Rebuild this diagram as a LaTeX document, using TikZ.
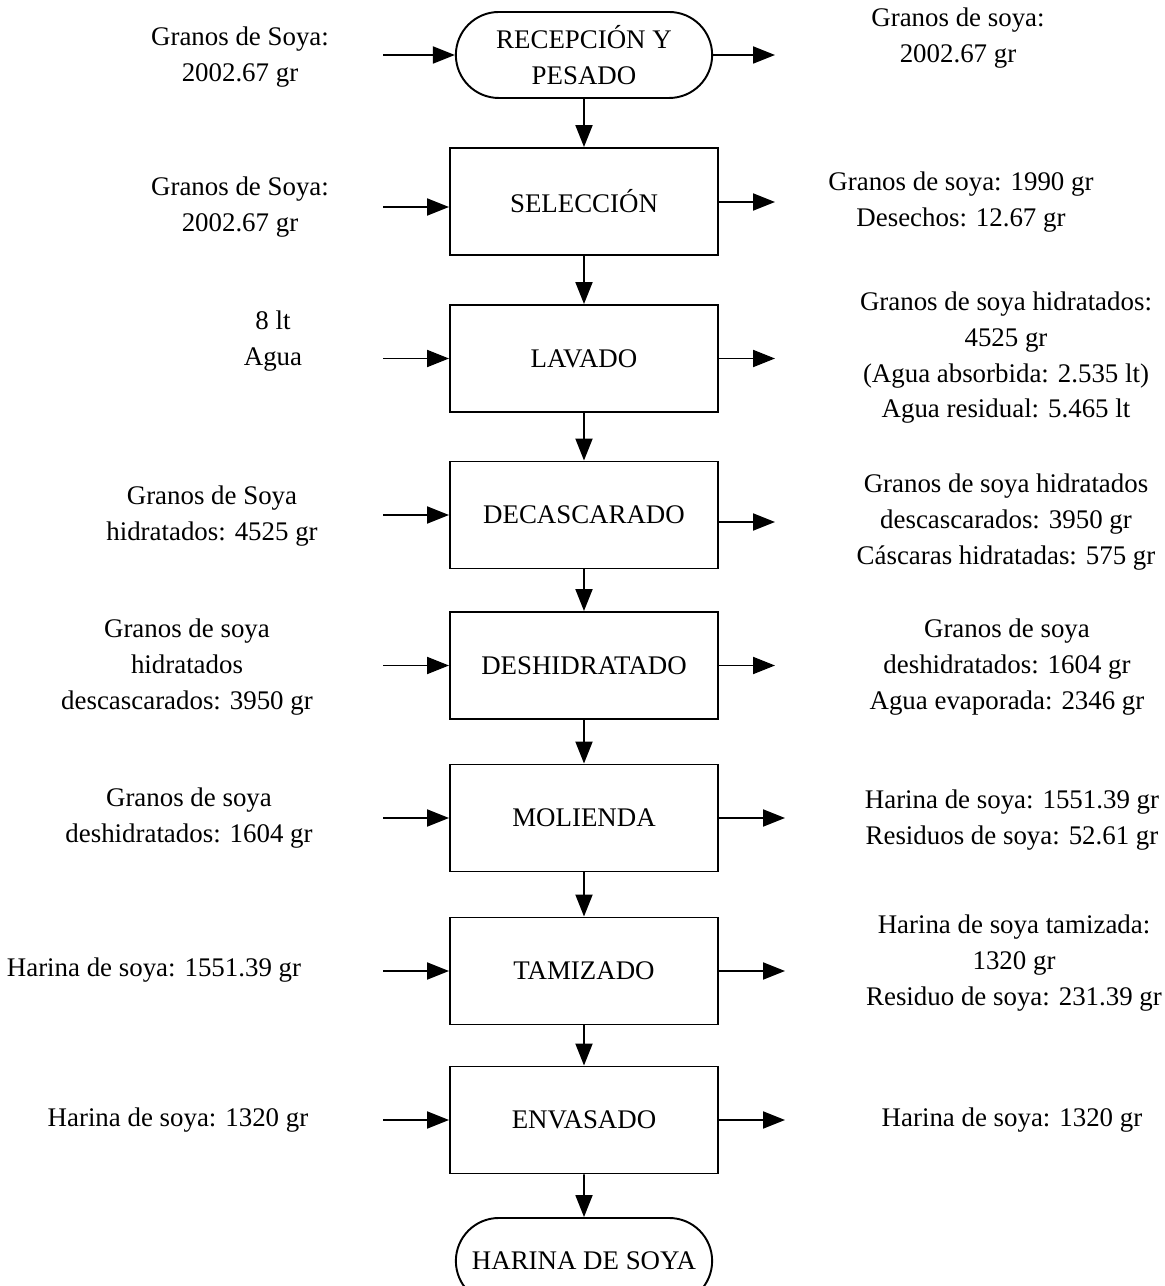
\documentclass[tikz,border=0pt]{standalone}
\usepackage{fontspec}
\setmainfont{Liberation Serif}
\usetikzlibrary{arrows.meta,shapes.misc}
\tikzset{every picture/.style={line width=1.1pt}}
\tikzset{
  letra/.style={font=\fontsize{15.3}{20.3}\selectfont},
  proceso/.style={draw,rectangle,letra,minimum width=5.36cm,minimum height=2.14cm},
  terminal/.style={draw,rounded rectangle,letra,align=center,minimum width=5.36cm,minimum height=1.72cm},
  dato/.style={letra,align=center},
  flecha/.style={-{Triangle[length=0.44cm,width=0.34cm]}}
}

\begin{document}
\begin{tikzpicture}[x=1cm,y=1cm]
\useasboundingbox (0,0) rectangle (23.3,25.72);
% etapas del proceso
\node[terminal] (rec) at (11.68,24.62) {RECEPCIÓN Y\\PESADO};
\node[proceso] (sel) at (11.68,21.69) {SELECCIÓN};
\node[proceso] (lav) at (11.68,18.55) {LAVADO};
\node[proceso] (dec) at (11.68,15.42) {DECASCARADO};
\node[proceso] (des) at (11.68,12.41) {DESHIDRATADO};
\node[proceso] (mol) at (11.68,9.36) {MOLIENDA};
\node[proceso] (tam) at (11.68,6.30) {TAMIZADO};
\node[proceso] (env) at (11.68,3.32) {ENVASADO};
\node[terminal] (har) at (11.68,0.50) {HARINA DE SOYA};
\draw[flecha] (rec) -- (sel);
\draw[flecha] (sel) -- (lav);
\draw[flecha] (lav) -- (dec);
\draw[flecha] (dec) -- (des);
\draw[flecha] (des) -- (mol);
\draw[flecha] (mol) -- (tam);
\draw[flecha] (tam) -- (env);
\draw[flecha] (env) -- (har);
% entradas
\node[dato] (e1) at (4.80,24.58) {Granos de Soya:\\2002.67 gr};
\node[dato] (e2) at (4.80,21.58) {Granos de Soya:\\2002.67 gr};
\node[dato] (e3) at (5.46,18.90) {8 lt\\Agua};
\node[dato] (e4) at (4.24,15.40) {Granos de Soya\\hidratados: 4525 gr};
\node[dato] (e5) at (3.74,12.38) {Granos de soya\\hidratados\\descascarados: 3950 gr};
\node[dato] (e6) at (3.78,9.36) {Granos de soya\\deshidratados: 1604 gr};
\node[dato] (e7) at (3.08,6.32) {Harina de soya: 1551.39 gr};
\node[dato] (e8) at (3.56,3.32) {Harina de soya: 1320 gr};
\coordinate (a1) at (7.66,24.62);
\coordinate (a2) at (7.66,21.58);
\coordinate (a3) at (7.66,18.55);
\coordinate (a4) at (7.66,15.42);
\coordinate (a5) at (7.66,12.41);
\coordinate (a6) at (7.66,9.36);
\coordinate (a7) at (7.66,6.30);
\coordinate (a8) at (7.66,3.32);
\draw[flecha] (a1) -- (rec.west |- a1);
\draw[flecha] (a2) -- (sel.west |- a2);
\draw[flecha] (a3) -- (lav.west |- a3);
\draw[flecha] (a4) -- (dec.west |- a4);
\draw[flecha] (a5) -- (des.west |- a5);
\draw[flecha] (a6) -- (mol.west |- a6);
\draw[flecha] (a7) -- (tam.west |- a7);
\draw[flecha] (a8) -- (env.west |- a8);
% salidas
\node[dato] (s1) at (19.16,24.96) {Granos de soya:\\2002.67 gr};
\node[dato] (s2) at (19.22,21.68) {Granos de soya: 1990 gr\\Desechos: 12.67 gr};
\node[dato] (s3) at (20.12,18.56) {Granos de soya hidratados:\\4525 gr\\(Agua absorbida: 2.535 lt)\\Agua residual: 5.465 lt};
\node[dato] (s4) at (20.12,15.28) {Granos de soya hidratados\\descascarados: 3950 gr\\Cáscaras hidratadas: 575 gr};
\node[dato] (s5) at (20.14,12.38) {Granos de soya\\deshidratados: 1604 gr\\Agua evaporada: 2346 gr};
\node[dato] (s6) at (20.24,9.32) {Harina de soya: 1551.39 gr\\Residuos de soya: 52.61 gr};
\node[dato] (s7) at (20.28,6.46) {Harina de soya tamizada:\\1320 gr\\Residuo de soya: 231.39 gr};
\node[dato] (s8) at (20.24,3.32) {Harina de soya: 1320 gr};
\coordinate (b1) at (15.50,24.62);
\coordinate (b2) at (15.50,21.68);
\coordinate (b3) at (15.50,18.55);
\coordinate (b4) at (15.50,15.28);
\coordinate (b5) at (15.50,12.41);
\coordinate (b6) at (15.70,9.36);
\coordinate (b7) at (15.70,6.30);
\coordinate (b8) at (15.70,3.32);
\draw[flecha] (rec.east |- b1) -- (b1);
\draw[flecha] (sel.east |- b2) -- (b2);
\draw[flecha] (lav.east |- b3) -- (b3);
\draw[flecha] (dec.east |- b4) -- (b4);
\draw[flecha] (des.east |- b5) -- (b5);
\draw[flecha] (mol.east |- b6) -- (b6);
\draw[flecha] (tam.east |- b7) -- (b7);
\draw[flecha] (env.east |- b8) -- (b8);
\end{tikzpicture}
\end{document}
